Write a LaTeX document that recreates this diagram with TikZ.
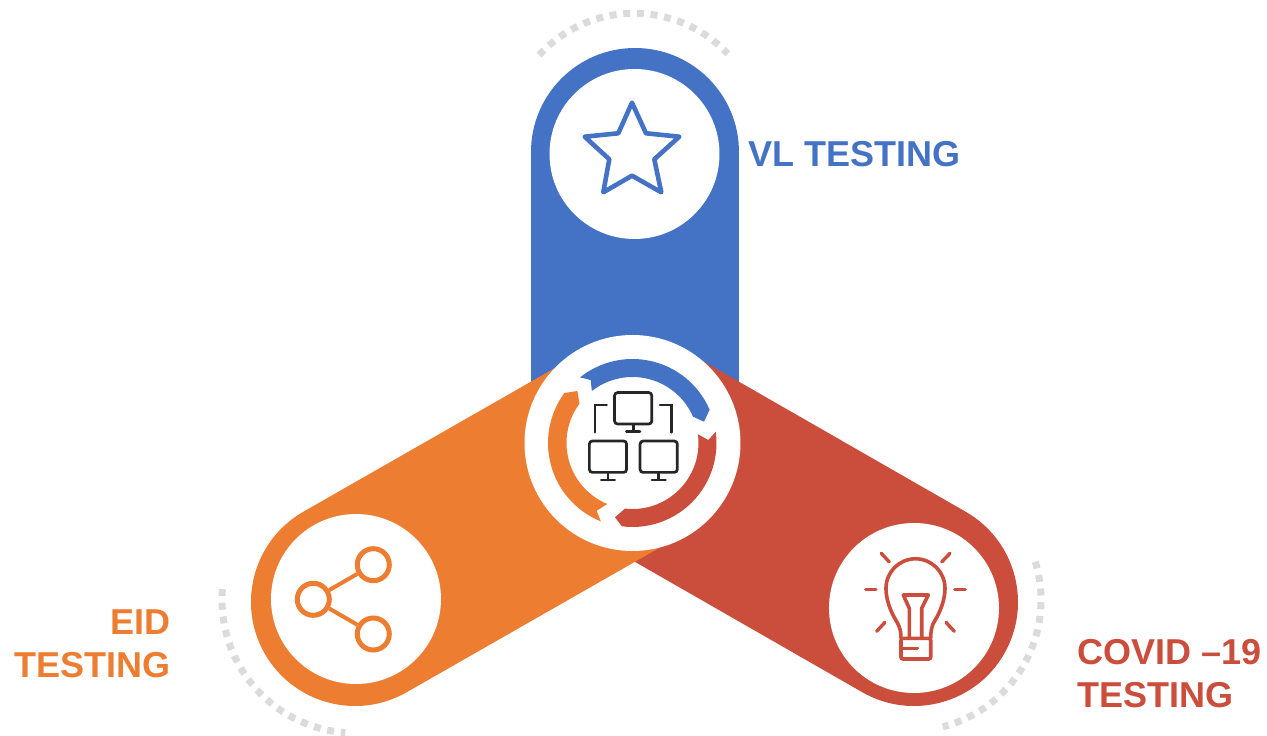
\documentclass[tikz,border=0pt]{standalone}
\usepackage{fontspec}
\setmainfont{Liberation Sans}
\usetikzlibrary{positioning}
\definecolor{vlblue}{HTML}{4472C4}
\definecolor{eidorange}{HTML}{ED7D31}
\definecolor{covidred}{HTML}{CB4E3C}
\definecolor{dotgray}{HTML}{DBDBDB}
\definecolor{iconblack}{HTML}{262626}
\tikzset{
  arm/.style={line width=208pt,line cap=round},
  plate/.style={circle,fill=white,inner sep=0pt,minimum size=170pt},
  dots/.style={dotgray,line width=7pt,dash pattern=on 7pt off 6.7pt},
  tag/.style={font=\fontsize{36}{43}\selectfont\bfseries,inner sep=0pt},
  ray/.style={line width=3.4pt,line cap=round},
  sharedot/.style={circle,draw=eidorange,line width=5pt,inner sep=0pt,minimum size=32pt},
  monitor/.pic={
    \draw[rounded corners=3pt] (-18.6,-15.7) rectangle (18.6,15.7);
    \draw (0,-15.7) -- (0,-23);
    \draw[line cap=round] (-6.8,-23.3) -- (6.8,-23.3);
  }
}
\begin{document}
\begin{tikzpicture}[x=1pt,y=1pt]
  \useasboundingbox (-632.5,-293) rectangle (634.5,443);
  \coordinate (junction) at (2.5,1);
  \coordinate (vlend)    at (2.5,291);
  \coordinate (covidend) at (281.5,-159);
  \coordinate (eidend)   at (-277.5,-159);

  % dotted arcs
  \draw[dots] (1.5,301) ++(137.5:128.7) arc[start angle=137.5,end angle=43.3,radius=128.7];
  \draw[dots] (-277.5,-157) ++(175.3:133) arc[start angle=175.3,end angle=265.8,radius=133];
  \draw[dots] (277.5,-157) ++(17:131) arc[start angle=17,end angle=-75.5,radius=131];

  % arms
  \draw[arm,vlblue]    (junction) -- (vlend);
  \draw[arm,covidred]  (junction) -- (covidend);
  \draw[arm,eidorange] (junction) -- (eidend);

  \node[plate] (vl)    at (2,289) {};
  \node[plate] (eid)   at (-276.5,-156) {};
  \node[plate] (covid) at (281.5,-165) {};
  \node[circle,fill=white,inner sep=0pt,minimum size=216pt] (hub) at (0,0) {};

  % labels
  \node[tag,vlblue,right = 29pt of vl] (vltag) {VL TESTING};
  \node[tag,eidorange,align=right,left = 100pt of eid,yshift=-45pt] (eidtag) {EID\\TESTING};
  \node[tag,covidred,align=left,right = 78pt of covid,yshift=-66pt] (covidtag) {COVID –19\\TESTING};

  % cycle around the hub
  \fill[vlblue] (128.6:84) -- (-41.8,63) -- (128:66)
    arc[start angle=128,end angle=23.5,radius=66] -- (71.5,21.3) -- (23.3:84)
    arc[start angle=23.3,end angle=128.6,radius=84] -- cycle;
  \fill[covidred] (7.7:84) -- (75.8,3) -- (7.6:66)
    arc[start angle=7.6,end angle=-96.5,radius=66] -- (-17.5,-74.3) -- (-97.3:84)
    arc[start angle=-97.3,end angle=7.7,radius=84] -- cycle;
  \fill[eidorange] (248:84.5) -- (-35.8,-67.7) -- (247.6:66)
    arc[start angle=247.6,end angle=143.4,radius=66] -- (-55.2,52) -- (143.7:84.5)
    arc[start angle=143.7,end angle=248,radius=84.5] -- cycle;

  % network
  \begin{scope}[iconblack,line width=2.7pt]
    \pic at (0.7,34.7) {monitor};
    \pic at (-24.5,-13.7) {monitor};
    \pic at (26.2,-13.7) {monitor};
    \draw[line cap=round] (-37.5,10.7) -- (-37.5,38) -- (-25.8,38);
    \draw[line cap=round] (39.2,10.7) -- (39.2,38) -- (27.5,38);
  \end{scope}

  % star
  \begin{scope}[shift={(vl)}]
    \draw[vlblue,line width=4.6pt,line join=round]
      (-2.5,51.3) -- (11.5,20.7) -- (44.8,17.3) -- (19.8,-5.3) -- (26.8,-38.3)
      -- (-2.5,-21.7) -- (-31.2,-38.3) -- (-25.2,-5.3) -- (-49.8,17.3) -- (-16.2,20.7) -- cycle;
  \end{scope}

  % share
  \begin{scope}[shift={(eid)}]
    \node[sharedot] (sharea) at (-42.7,-0.3) {};
    \node[sharedot] (shareb) at (17.3,34.3) {};
    \node[sharedot] (sharec) at (17.3,-35) {};
    \draw[eidorange,line width=4pt] (sharea) -- (shareb);
    \draw[eidorange,line width=4pt] (sharea) -- (sharec);
  \end{scope}

  % bulb
  \begin{scope}[shift={(covid)},covidred,line width=3.6pt]
    \draw[ray] (-32.7,54.7) -- (-24.7,46);
    \draw[ray] (36,54.7) -- (27.7,46);
    \draw[ray] (-48.3,18.3) -- (-38,18.3);
    \draw[ray] (40.7,18.3) -- (51.3,18.3);
    \draw[ray] (-37.3,-23.3) -- (-29,-14.3);
    \draw[ray] (40.3,-23.3) -- (32,-14.3);
    \draw (-13,-30.3) .. controls (-13,-24) and (-14,-20) .. (-16,-16)
      .. controls (-20,-9) and (-28,4) .. (-28,19.7)
      arc[start angle=180,end angle=0,radius=29.5]
      .. controls (31,4) and (23,-9) .. (19,-16)
      .. controls (17.5,-20) and (16.7,-24) .. (16.7,-30.3);
    \draw[rounded corners=2pt] (-13,-30.3) rectangle (16.7,-51);
    \draw[line cap=round] (-13,-40.3) -- (3.3,-40.3);
    \draw[line join=round] (-4.7,-30.3) -- (-4.7,-0.3) -- (-10.7,13) -- (14.3,13) -- (7.7,-0.3) -- (7.7,-30.3);
  \end{scope}
\end{tikzpicture}
\end{document}
